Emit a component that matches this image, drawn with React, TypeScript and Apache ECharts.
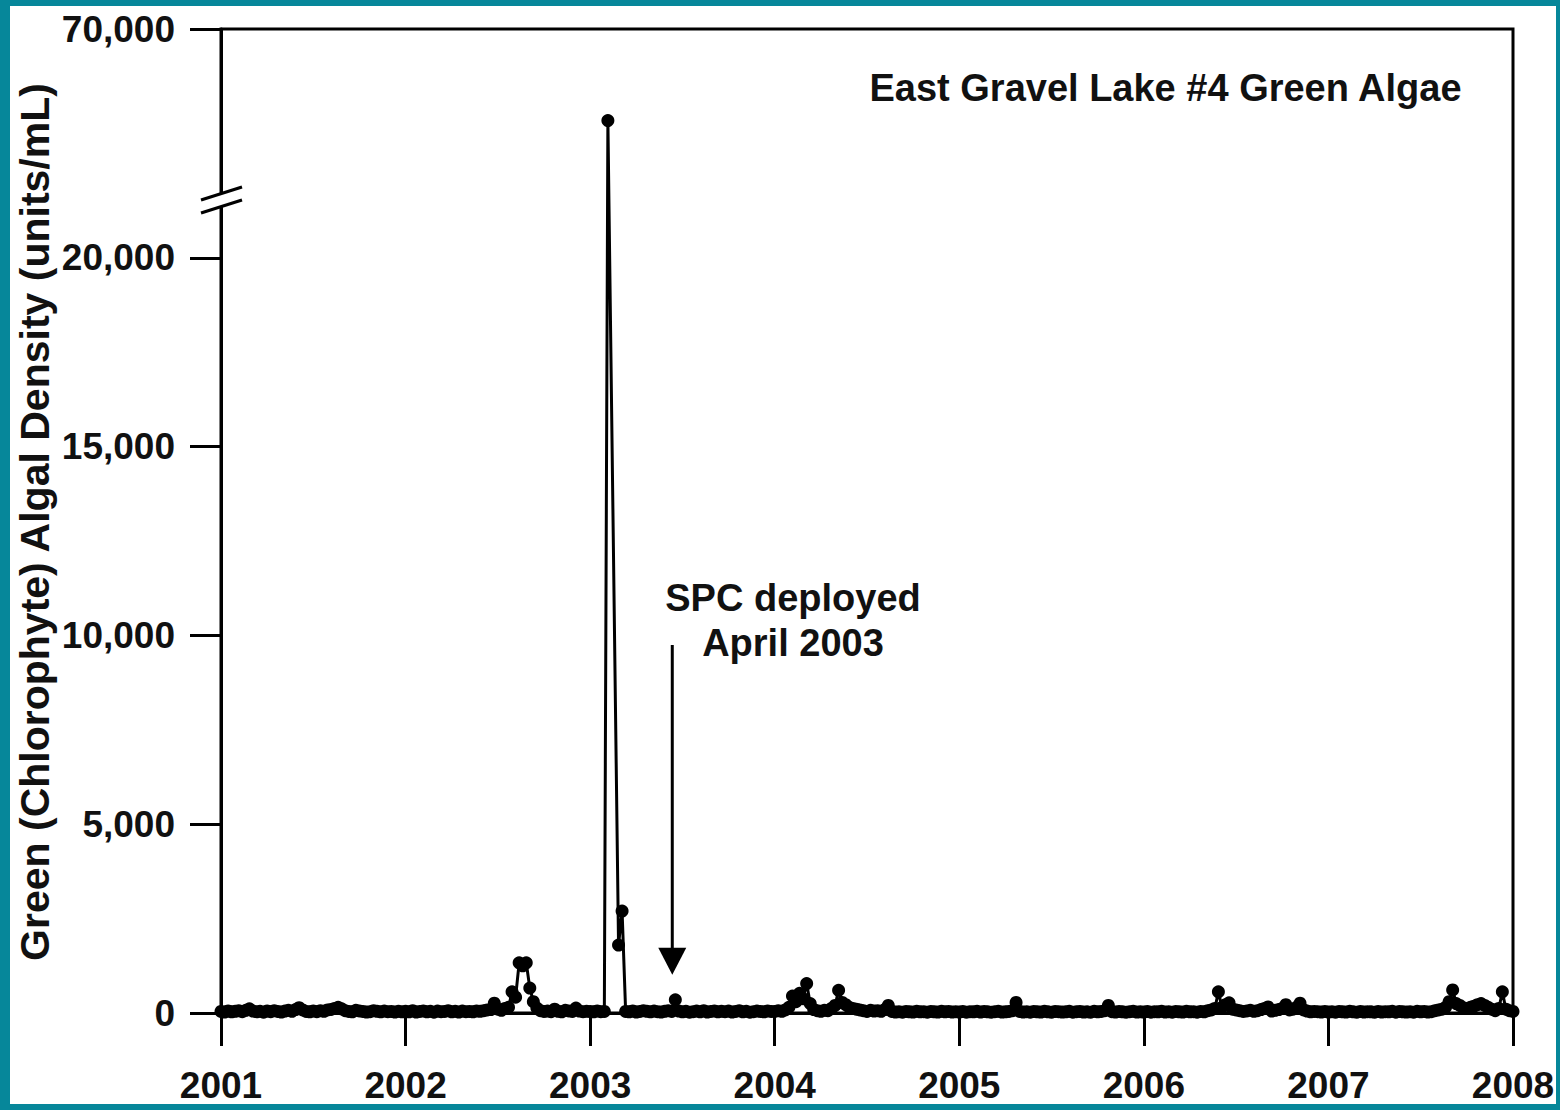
import React, { useEffect, useRef } from "react";
import * as echarts from "echarts";

// ---- Data: weekly samples (index = week of year), algal density units/mL ----
const weekly2001: (number | null)[] = [
  40, 25, 55, 30, 45, 60, 35, 70, 110, 50, 30, 45, 20, 55, 35, 60, 40, 25, 50, 70, 45, 90, 140, 80, 40, 30,
  55, 35, 60, 45, 80, 95, 120, 150, 110, 60, 40, 30, 70, 55, 40, 25, 35, 60, 45, 30, 50, 35, 40, 25, 45, 30,
];
const weekly2002: (number | null)[] = [
  45, 30, 60, 25, 40, 55, 30, 45, 20, 50, 35, 40, 60, 30, 45, 25, 50, 35, 40, 30, 55, 45, 60, 80, 90, 260,
  100, 70, 120, 150, 560, 420, 1330, 1250, 1330, 660, 300, 130, 60, 40, 50, 35, 100, 45, 30, 70, 55, 40, 130, 50, 35, 45,
];
const weekly2003: (number | null)[] = [
  40, 30, 55, 35, 40, 50000, null, null, 1800, 2700, 40, 30, 55, 25, 40, 60, 45, 30, 50, 35, 25, 45, 60, 40, 350, 50,
  30, 45, 20, 35, 50, 30, 60, 25, 40, 55, 30, 45, 35, 50, 25, 40, 60, 30, 45, 20, 35, 50, 40, 30, 55, 40,
];
const weekly2004: (number | null)[] = [
  40, 60, 45, 80, 150, 450, 300, 520, 380, 780, 250, 90, 60, 45, 70, 60, 120, 200, 600, 280, 220, 150, 120, 100, 80, 60,
  40, 70, 50, 60, 45, 90, 200, 40, 25, 35, 20, 40, 30, 25, 45, 30, 35, 20, 40, 30, 25, 45, 30, 40, 25, 35,
];
const weekly2005: (number | null)[] = [
  25, 40, 20, 35, 30, 45, 25, 40, 30, 20, 35, 45, 25, 30, 40, 60, 280, 40, 25, 35, 20, 40, 30, 25, 45, 30,
  20, 40, 35, 25, 30, 45, 20, 35, 40, 25, 30, 20, 45, 30, 40, 60, 200, 35, 25, 40, 30, 20, 35, 45, 25, 30,
];
const weekly2006: (number | null)[] = [
  25, 40, 20, 35, 30, 45, 25, 35, 20, 40, 30, 25, 45, 30, 35, 20, 40, 30, 60, 80, 120, 560, 150, 220, 270, 100,
  80, 60, 40, 55, 70, 45, 60, 90, 120, 160, 50, 70, 90, 120, 220, 80, 100, 150, 260, 80, 50, 30, 40, 35, 25, 40,
];
const weekly2007: (number | null)[] = [
  25, 35, 20, 40, 30, 25, 45, 30, 20, 40, 25, 35, 30, 20, 40, 25, 35, 30, 45, 20, 40, 30, 25, 35, 20, 45,
  30, 40, 25, 35, 60, 80, 100, 150, 300, 610, 250, 200, 140, 120, 150, 180, 220, 250, 200, 150, 100, 60, 120, 560, 100, 60,
];
const finalSample2008 = 40; // first sample of 2008

const yTickValues = [0, 5000, 10000, 15000, 20000, 70000];
const xTickYears = [2001, 2002, 2003, 2004, 2005, 2006, 2007, 2008];

const chartTitle = "East Gravel Lake #4 Green Algae";
const yAxisTitle = "Green (Chlorophyte) Algal Density (units/mL)";
const noteLines = ["SPC deployed", "April 2003"];
const noteArrowYear = 2003.445;
const noteArrowFrom = 9750;
const noteArrowTo = 1010;

// ---- broken axis mapping: 0..20,000 linear, 20,000..70,000 compressed ----
const BREAK_LOW = 20000;
const TOP_VALUE = 70000;
const UPPER_SPAN = 6066; // display units used for 20,000..70,000
const toDisplay = (v: number) =>
  v <= BREAK_LOW ? v : BREAK_LOW + ((v - BREAK_LOW) * UPPER_SPAN) / (TOP_VALUE - BREAK_LOW);
const DISPLAY_MAX = toDisplay(TOP_VALUE);
const BREAK_MARK_AT = 21536;

const FONT = "'Liberation Sans', Arial, Helvetica, sans-serif";

export default function App() {
  const ref = useRef<HTMLDivElement>(null);
  useEffect(() => {
    if (!ref.current) return;
    const chart = echarts.init(ref.current, undefined, { renderer: "svg" });
    const years: [number, (number | null)[]][] = [
      [2001, weekly2001], [2002, weekly2002], [2003, weekly2003], [2004, weekly2004],
      [2005, weekly2005], [2006, weekly2006], [2007, weekly2007],
    ];
    const points: [number, number][] = [];
    years.forEach(([yr, arr]) => {
      arr.forEach((v, w) => {
        if (v !== null) points.push([yr + w / 52, toDisplay(v)]);
      });
    });
    points.push([2008, toDisplay(finalSample2008)]);

    const tickDisplay = yTickValues.map(toDisplay);
    chart.setOption({
      animation: false,
      title: {
        text: chartTitle,
        right: 97,
        top: 69,
        padding: 0,
        textStyle: { fontFamily: FONT, fontSize: 38, fontWeight: "bold", color: "#111" },
      },
      grid: {
        left: 221,
        right: 47,
        top: 29,
        bottom: 97,
        show: true,
        borderColor: "#000",
        borderWidth: 3,
        backgroundColor: "transparent",
      },
      xAxis: {
        type: "value",
        min: 2001,
        max: 2008,
        interval: 1,
        axisLine: { lineStyle: { color: "#000", width: 3 } },
        axisTick: { show: true, length: 33, lineStyle: { color: "#000", width: 3 } },
        axisLabel: {
          customValues: xTickYears,
          formatter: (v: number) => String(Math.round(v)),
          fontFamily: FONT,
          fontSize: 37,
          fontWeight: "bold",
          color: "#111",
          margin: 54,
        },
        splitLine: { show: false },
      },
      yAxis: {
        type: "value",
        min: 0,
        max: DISPLAY_MAX,
        axisLine: { show: true, lineStyle: { color: "#000", width: 3 } },
        axisTick: {
          show: true,
          customValues: tickDisplay,
          length: 31,
          lineStyle: { color: "#000", width: 3 },
        },
        axisLabel: {
          customValues: tickDisplay,
          formatter: (v: number) => {
            const idx = tickDisplay.findIndex((d) => Math.abs(d - v) < 1);
            const real = idx >= 0 ? yTickValues[idx] : v;
            return real.toLocaleString("en-US");
          },
          fontFamily: FONT,
          fontSize: 37,
          fontWeight: "bold",
          color: "#111",
          margin: 46,
        },
        splitLine: { show: false },
      },
      series: [
        {
          type: "line",
          data: points,
          symbol: "circle",
          symbolSize: 13,
          showSymbol: true,
          showAllSymbol: true,
          itemStyle: { color: "#000" },
          lineStyle: { color: "#000", width: 3 },
          clip: false,
          z: 3,
        },
      ],
    });

    const ax = chart.convertToPixel({ xAxisIndex: 0 }, 2001) as number;
    const by = chart.convertToPixel({ yAxisIndex: 0 }, BREAK_MARK_AT) as number;
    const arX = chart.convertToPixel({ xAxisIndex: 0 }, noteArrowYear) as number;
    const arTop = chart.convertToPixel({ yAxisIndex: 0 }, noteArrowFrom) as number;
    const arTip = chart.convertToPixel({ yAxisIndex: 0 }, noteArrowTo) as number;
    const headH = 27;
    const headW = 14;

    chart.setOption({
      graphic: [
        {
          type: "polygon",
          z: 100,
          shape: {
            points: [
              [ax - 20, by],
              [ax + 21, by - 13],
              [ax + 21, by],
              [ax - 20, by + 13],
            ],
          },
          style: { fill: "#fff" },
        },
        {
          type: "line",
          z: 101,
          shape: { x1: ax - 20, y1: by, x2: ax + 21, y2: by - 13 },
          style: { stroke: "#000", lineWidth: 3 },
        },
        {
          type: "line",
          z: 101,
          shape: { x1: ax - 20, y1: by + 13, x2: ax + 21, y2: by },
          style: { stroke: "#000", lineWidth: 3 },
        },
        {
          type: "line",
          z: 100,
          shape: { x1: arX, y1: arTop, x2: arX, y2: arTip - headH + 2 },
          style: { stroke: "#000", lineWidth: 3 },
        },
        {
          type: "polygon",
          z: 100,
          shape: {
            points: [
              [arX - headW, arTip - headH],
              [arX + headW, arTip - headH],
              [arX, arTip],
            ],
          },
          style: { fill: "#000" },
        },
        {
          type: "text",
          z: 100,
          x: 793,
          y: 598,
          style: {
            text: noteLines[0],
            textAlign: "center",
            textVerticalAlign: "middle",
            font: `bold 38px ${FONT}`,
            fill: "#111",
          },
        },
        {
          type: "text",
          z: 100,
          x: 793,
          y: 643,
          style: {
            text: noteLines[1],
            textAlign: "center",
            textVerticalAlign: "middle",
            font: `bold 38px ${FONT}`,
            fill: "#111",
          },
        },
        {
          type: "text",
          z: 100,
          x: 35,
          y: 522,
          rotation: Math.PI / 2,
          style: {
            text: yAxisTitle,
            textAlign: "center",
            textVerticalAlign: "middle",
            font: `bold 41px ${FONT}`,
            fill: "#111",
          },
        },
      ],
    });

    return () => chart.dispose();
  }, []);

  return (
    <div
      style={{
        position: "absolute",
        left: 0,
        top: 0,
        width: 1560,
        height: 1110,
        background: "#06879a",
      }}
    >
      <div
        style={{
          position: "absolute",
          left: 10,
          top: 6,
          width: 1546,
          height: 1098,
          background: "#fff",
        }}
      />
      <div ref={ref} style={{ position: "absolute", left: 0, top: 0, width: 1560, height: 1110 }} />
    </div>
  );
}
